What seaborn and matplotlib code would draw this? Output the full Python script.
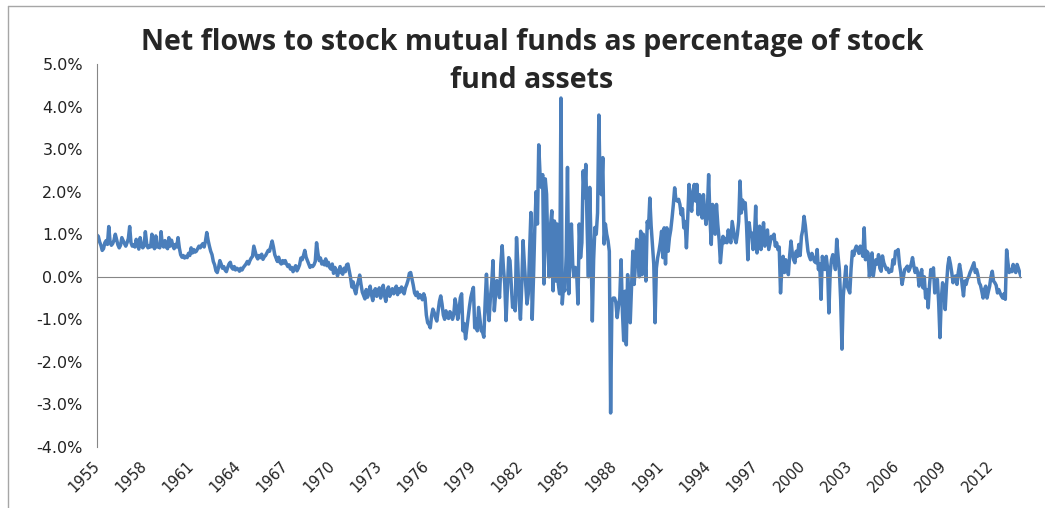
import numpy as np
import pandas as pd
import matplotlib
matplotlib.use("Agg")
import matplotlib.pyplot as plt
from matplotlib.lines import Line2D
from matplotlib.ticker import PercentFormatter
import seaborn as sns

# monthly net flows (% of stock fund assets), Jan..Dec per row
flows_1950s = [
    0.98, 0.95, 0.82, 0.74, 0.62, 0.66, 0.80, 0.85, 0.76, 1.18, 0.82, 0.74,
    0.78, 0.86, 1.00, 0.88, 0.75, 0.68, 0.74, 0.92, 0.85, 0.78, 0.72, 0.80,
    0.90, 1.18, 0.80, 0.72, 0.75, 0.70, 0.88, 0.76, 0.65, 0.92, 0.74, 0.68,
    0.72, 1.06, 0.78, 0.68, 0.72, 0.70, 1.00, 0.74, 0.66, 0.96, 0.70, 0.72,
    0.68, 1.06, 0.74, 0.70, 0.85, 0.70, 0.66, 0.92, 0.72, 0.86, 0.74, 0.66,
]
flows_1960s = [
    0.76, 0.70, 0.92, 0.68, 0.52, 0.46, 0.50, 0.44, 0.48, 0.45, 0.55, 0.50,
    0.68, 0.56, 0.64, 0.58, 0.60, 0.66, 0.72, 0.68, 0.74, 0.78, 0.70, 0.84,
    1.04, 0.86, 0.72, 0.60, 0.52, 0.36, 0.28, 0.14, 0.10, 0.22, 0.38, 0.30,
    0.20, 0.24, 0.16, 0.12, 0.22, 0.30, 0.34, 0.22, 0.18, 0.24, 0.16, 0.20,
    0.18, 0.13, 0.20, 0.16, 0.22, 0.26, 0.30, 0.36, 0.30, 0.38, 0.44, 0.48,
    0.72, 0.60, 0.48, 0.42, 0.50, 0.45, 0.53, 0.41, 0.47, 0.50, 0.56, 0.62,
    0.60, 0.72, 0.84, 0.70, 0.52, 0.44, 0.36, 0.46, 0.34, 0.30, 0.38, 0.32,
    0.38, 0.30, 0.24, 0.28, 0.18, 0.22, 0.12, 0.20, 0.26, 0.14, 0.20, 0.28,
    0.44, 0.40, 0.50, 0.62, 0.46, 0.38, 0.30, 0.22, 0.26, 0.24, 0.28, 0.36,
    0.80, 0.56, 0.38, 0.44, 0.30, 0.36, 0.28, 0.42, 0.26, 0.34, 0.22, 0.18,
]
flows_1970s = [
    0.30, 0.08, 0.22, 0.16, 0.02, 0.12, 0.24, 0.10, 0.06, 0.20, 0.12, 0.28,
    0.30, 0.14, -0.02, -0.24, -0.12, -0.30, -0.40, -0.22, -0.10, 0.04, -0.18, -0.36,
    -0.44, -0.52, -0.30, -0.48, -0.36, -0.22, -0.42, -0.56, -0.34, -0.28, -0.46, -0.38,
    -0.26, -0.50, -0.36, -0.20, -0.44, -0.58, -0.32, -0.24, -0.46, -0.34, -0.28, -0.40,
    -0.30, -0.22, -0.42, -0.28, -0.36, -0.24, -0.30, -0.40, -0.26, -0.18, -0.08, 0.08,
    0.10, -0.05, -0.20, -0.38, -0.44, -0.36, -0.50, -0.42, -0.46, -0.54, -0.40, -0.50,
    -0.90, -1.08, -1.12, -1.20, -0.92, -0.76, -0.84, -0.96, -1.04, -0.80, -0.58, -0.45,
    -0.64, -0.90, -1.00, -0.80, -0.92, -0.98, -0.82, -0.86, -1.00, -0.88, -0.52, -0.70,
    -1.00, -0.80, -0.49, -0.40, -1.27, -1.10, -1.46, -1.20, -0.95, -0.70, -0.49, -0.36,
    -0.25, -1.20, -1.00, -1.27, -0.72, -1.00, -1.27, -1.30, -1.42, -0.60, 0.06, -0.70,
]
flows_1980s = [
    -1.03, -0.49, -0.17, 0.38, -0.80, -0.40, -0.09, -0.30, -0.49, 0.30, 0.73, 0.20,
    -0.17, -1.03, -0.30, 0.45, 0.38, -0.20, -0.72, -0.50, -0.80, 0.92, 0.30, -0.56,
    -1.00, -0.20, 0.85, 0.30, -0.17, -0.64, -0.40, 0.60, 1.51, -1.00, 0.00, 1.16,
    2.00, 1.24, 3.10, 2.40, 2.10, 2.40, -0.17, 2.30, 1.94, 0.60, 0.00, 1.20,
    1.55, -0.33, 1.31, -0.10, 1.24, -0.17, -0.40, 4.20, -0.64, -0.20, -0.33, 0.50,
    2.57, -0.40, 0.60, 1.24, 0.30, 0.00, 0.22, 0.10, -0.64, 1.24, 0.45, 0.80,
    2.49, 1.86, 2.64, 1.20, 0.00, 2.10, 0.80, -1.04, 0.40, 1.16, 1.00, 1.50,
    3.80, 2.00, 1.93, 2.80, 0.77, 1.24, 1.00, 0.85, 0.60, -3.20, -0.57, -0.50,
    -0.50, -0.60, -0.96, -0.70, -0.50, 0.40, -0.80, -1.50, -0.34, -1.60, 0.05, -0.60,
    -1.08, -0.26, 0.60, -0.18, 0.30, 0.88, 0.40, 0.00, 1.07, 0.05, 1.00, 0.50,
]
flows_1990s = [
    -0.10, 1.30, 1.15, 1.85, 1.20, 0.76, 0.30, -1.08, 0.20, 0.45, 0.60, 0.80,
    1.07, 0.45, 1.15, 0.30, 1.15, 0.60, 0.92, 1.10, 1.38, 1.70, 2.09, 1.80,
    1.78, 1.82, 1.70, 1.46, 1.60, 1.15, 1.30, 0.68, 1.38, 2.17, 1.80, 1.54,
    2.00, 2.17, 1.78, 2.17, 1.46, 1.93, 1.60, 1.38, 1.93, 1.50, 1.23, 1.54,
    2.40, 1.38, 0.76, 1.70, 1.20, 1.00, 1.70, 1.23, 0.88, 0.33, 0.70, 0.95,
    0.80, 0.90, 0.80, 1.10, 0.90, 0.80, 1.30, 1.10, 0.90, 0.80, 1.00, 1.30,
    2.25, 1.50, 1.80, 1.60, 1.74, 1.20, 0.40, 1.27, 1.00, 1.03, 0.64, 0.90,
    1.66, 0.56, 1.00, 1.19, 0.64, 0.90, 1.27, 0.72, 1.00, 1.10, 0.64, 0.80,
    0.95, 0.90, 1.00, 0.72, 0.80, 0.64, 0.70, -0.38, 0.20, 0.48, 0.10, 0.40,
    0.30, 0.05, 0.50, 0.84, 0.56, 0.40, 0.33, 0.60, 0.48, 0.76, 0.50, 0.95,
]
flows_2000s = [
    1.10, 1.42, 1.20, 0.88, 0.60, 0.48, 0.40, 0.55, 0.45, 0.36, 0.33, 0.64,
    0.17, 0.30, -0.53, 0.48, 0.30, 0.17, 0.48, 0.20, -0.85, 0.10, 0.40, 0.52,
    0.40, 0.17, 0.88, 0.50, 0.17, -0.53, -1.70, -0.45, -0.10, 0.25, -0.22, -0.30,
    -0.38, 0.20, 0.60, 0.50, 0.64, 0.72, 0.64, 0.55, 0.72, 0.60, 0.48, 1.15,
    0.40, 0.60, 0.56, 0.00, 0.30, 0.56, 0.02, 0.25, 0.40, 0.30, 0.52, 0.20,
    0.13, 0.49, 0.33, 0.25, 0.17, 0.20, 0.10, 0.15, 0.13, 0.40, 0.30, 0.60,
    0.55, 0.64, 0.30, 0.10, -0.18, 0.00, 0.17, 0.20, 0.25, 0.13, 0.20, 0.30,
    0.45, 0.25, 0.10, 0.20, 0.10, -0.22, 0.00, 0.17, -0.26, 0.00, -0.50, -0.30,
    -0.73, -0.20, 0.17, 0.00, 0.21, -0.38, -0.20, -0.06, -0.60, -1.43, -0.53, -0.14,
    -0.30, -0.77, -0.20, 0.25, 0.45, 0.30, 0.10, -0.14, 0.00, 0.02, -0.18, 0.10,
]
flows_2010s = [
    0.29, 0.10, -0.20, -0.45, -0.10, -0.18, -0.05, 0.00, 0.10, 0.17, 0.25, 0.33,
    0.10, 0.17, 0.05, -0.14, -0.20, -0.34, -0.50, -0.30, -0.22, -0.50, -0.35, -0.22,
    0.00, 0.13, -0.10, -0.14, -0.20, -0.38, -0.30, -0.38, -0.45, -0.50, -0.40, -0.53,
    0.63, 0.33, 0.10, 0.17, 0.12, 0.29, 0.15, 0.10, 0.29, 0.20, 0.10, 0.00,
]

first_year = 1955
tick_years = list(range(1955, 2013, 3))
title = "Net flows to stock mutual funds as percentage of stock\nfund assets"

flows = flows_1950s + flows_1960s + flows_1970s + flows_1980s + flows_1990s + flows_2000s + flows_2010s
df = pd.DataFrame({"flow": flows})
df["year"] = first_year + np.arange(len(df)) / 12.0

sns.set_style("white")
plt.rcParams["font.family"] = ["DejaVu Sans"]
plt.rcParams["axes.unicode_minus"] = False

axis_grey = "#868686"
fig = plt.figure(figsize=(10.45, 5.08), dpi=100)
ax = fig.add_axes([97 / 1045, 1 - 447 / 508, (1021 - 97) / 1045, (447 - 64) / 508])

sns.lineplot(data=df, x="year", y="flow", ax=ax, color="#4a7ebb", linewidth=2.5)

ax.set_xlim(df["year"].iloc[0], df["year"].iloc[-1])
ax.set_ylim(-4, 5)
ax.set_yticks(range(-4, 6))
ax.yaxis.set_major_formatter(PercentFormatter(decimals=1))
ax.set_xlabel("")
ax.set_ylabel("")

for s in ["top", "right"]:
    ax.spines[s].set_visible(False)
ax.spines["left"].set_color(axis_grey)
ax.spines["bottom"].set_color(axis_grey)
ax.spines["bottom"].set_position(("data", 0))
ax.set_xticks(tick_years)
ax.tick_params(axis="x", labelbottom=False, direction="out", length=4.5, color=axis_grey, width=1)
ax.tick_params(axis="y", direction="out", length=3.6, color=axis_grey, width=1, labelsize=11.5, pad=6.5, labelcolor="#222222")

secax = ax.secondary_xaxis("bottom")
secax.set_xticks(tick_years, labels=[str(y) for y in tick_years])
secax.spines["bottom"].set_visible(False)
secax.tick_params(length=0, pad=12, labelsize=10.5, labelcolor="#222222")
plt.setp(secax.get_xticklabels(), rotation=45, ha="right", va="center", rotation_mode="anchor")

fig.text(532 / 1045, 1 - 28 / 508, title, ha="center", va="top", fontsize=20.5,
         fontweight="bold", family="Open Sans", linespacing=1.4)

# chart area border (top and left edge visible in the original)
fig.add_artist(Line2D([8 / 1045, 1], [1 - 6 / 508, 1 - 6 / 508], transform=fig.transFigure, color="#a6a6a6", lw=1))
fig.add_artist(Line2D([8 / 1045, 8 / 1045], [0, 1 - 6 / 508], transform=fig.transFigure, color="#a6a6a6", lw=1))

fig.savefig("out.png", dpi=100)
